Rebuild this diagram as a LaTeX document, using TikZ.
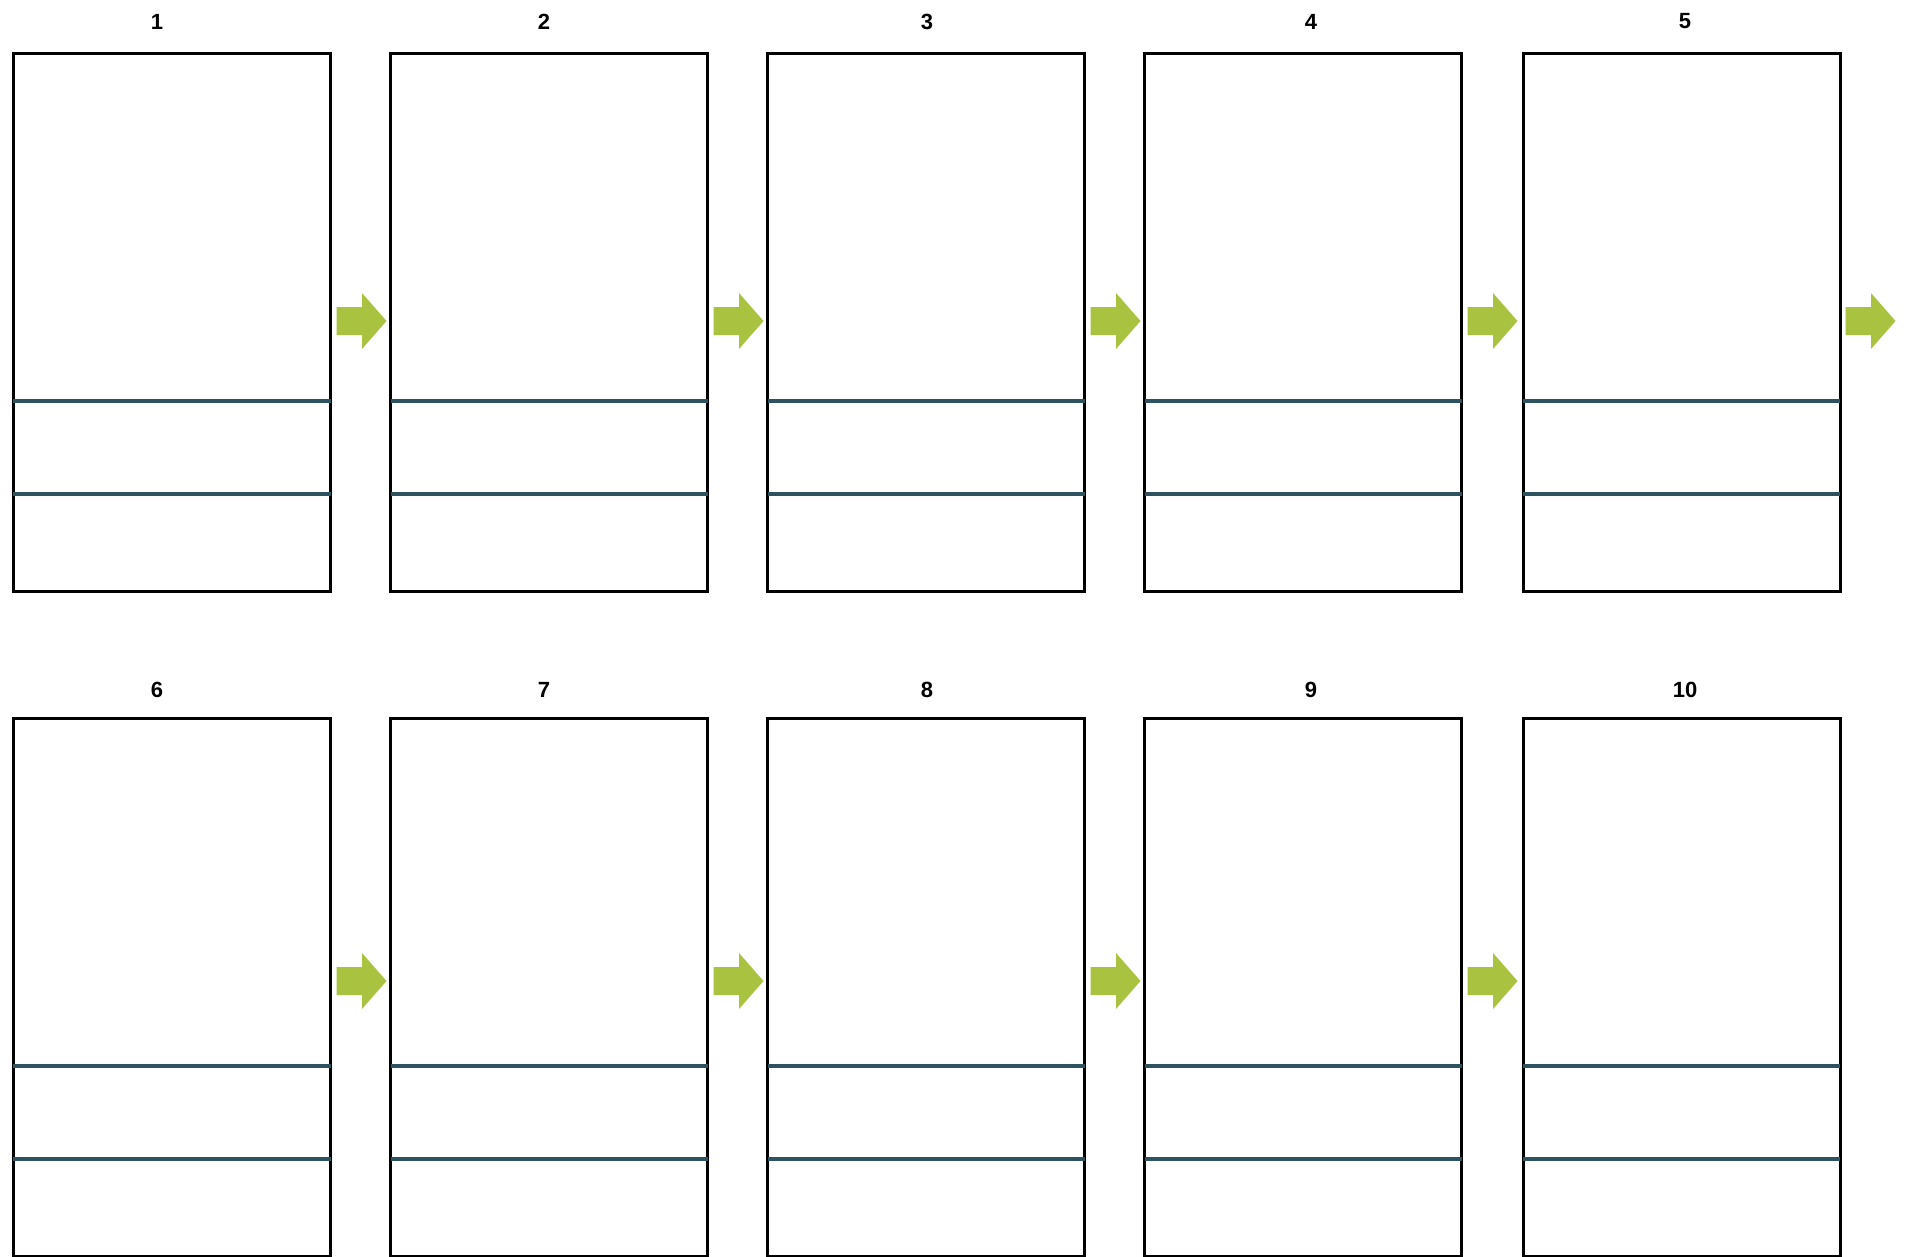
\documentclass[tikz,border=0pt]{standalone}
\usepackage{fontspec}
\setmainfont{Liberation Sans}
\usetikzlibrary{calc}
\definecolor{arrowgreen}{HTML}{A9C23F}
\definecolor{dividercol}{HTML}{2E5360}
\begin{document}
\begin{tikzpicture}[x=1pt,y=-1pt,
  panel/.style={draw=black, line width=3.4pt, minimum width=317pt, minimum height=538pt, inner sep=0pt, anchor=north west},
  divline/.style={draw=dividercol, line width=3.4pt},
  numlabel/.style={font=\bfseries\fontsize{22}{26}\selectfont, inner sep=0pt},
  blockarrow/.style={fill=arrowgreen, draw=none}]
\useasboundingbox (0,0) rectangle (1911,1256);
% panels
\foreach \i/\px/\lx in {1/11.7/157, 2/389/544, 3/766/927, 4/1143/1311, 5/1521.5/1685} {
  \node[panel] (b\i) at (\px,52) {};
  \node[numlabel] (l\i) at (\lx,21.5) {\i};
  \draw[divline] ($(b\i.north west)+(1.5,349)$) -- ($(b\i.north east)+(-1.5,349)$);
  \draw[divline] ($(b\i.north west)+(1.5,442)$) -- ($(b\i.north east)+(-1.5,442)$);
}
\foreach \i/\px/\lx in {6/11.7/157, 7/389/544, 8/766/927, 9/1143/1311, 10/1521.5/1685} {
  \node[panel] (b\i) at (\px,717) {};
  \node[numlabel] (l\i) at (\lx,689.5) {\i};
  \draw[divline] ($(b\i.north west)+(1.5,349)$) -- ($(b\i.north east)+(-1.5,349)$);
  \draw[divline] ($(b\i.north west)+(1.5,442)$) -- ($(b\i.north east)+(-1.5,442)$);
}
% block arrows
\foreach \i/\xr/\ty in {1/329/321, 2/706/321, 3/1083/321, 4/1460/321, 5/1838/321, 6/329/981, 7/706/981, 8/1083/981, 9/1460/981} {
  \fill[blockarrow]
    (\xr+7.5,\ty-14) -- (\xr+33,\ty-14) -- (\xr+33,\ty-28) -- (\xr+57.5,\ty)
    -- (\xr+33,\ty+28) -- (\xr+33,\ty+14) -- (\xr+7.5,\ty+14) -- cycle;
}
\end{tikzpicture}
\end{document}
